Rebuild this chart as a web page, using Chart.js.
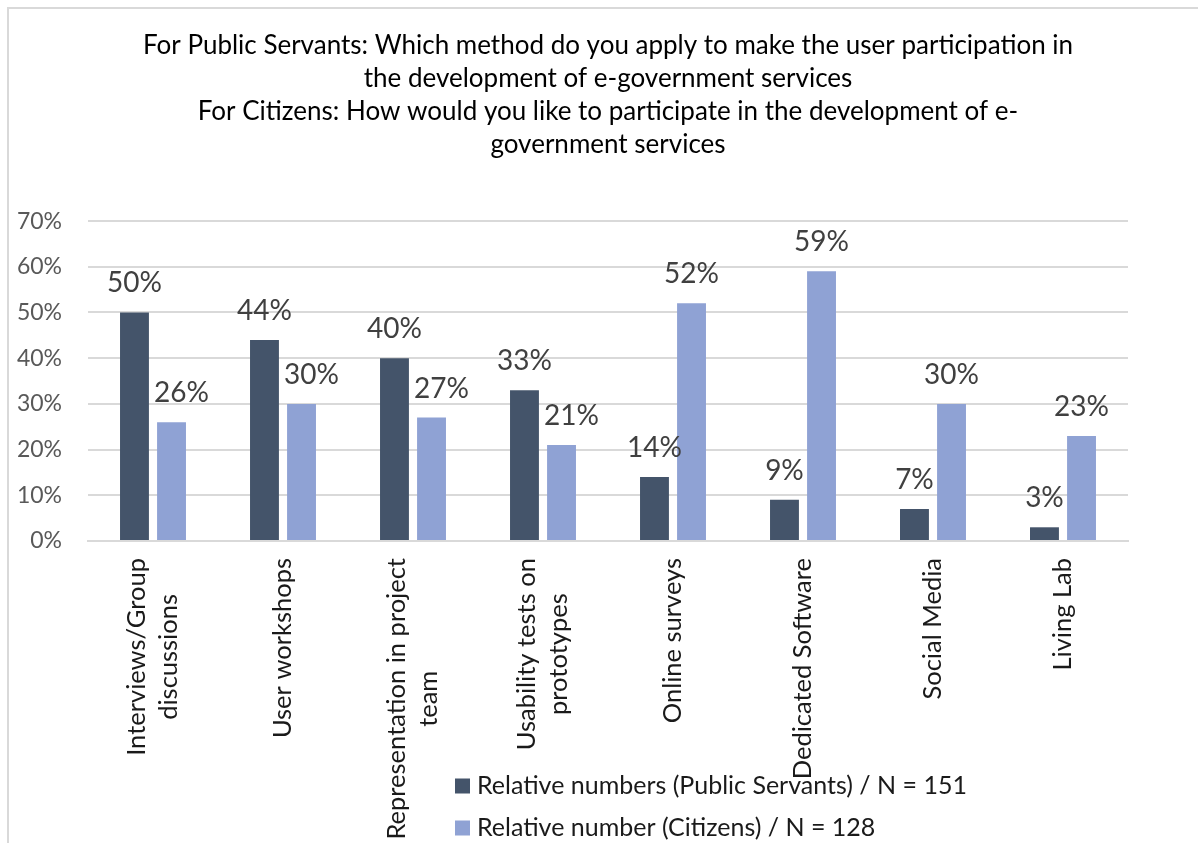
<!DOCTYPE html>
<html>
<head>
<meta charset="utf-8">
<script src="https://cdn.jsdelivr.net/npm/chart.js@4.4.1/dist/chart.umd.min.js"></script>
<style>
  html, body { margin: 0; padding: 0; background: #fff; overflow: hidden; }
  #frame {
    position: absolute; left: 7px; top: 7px; width: 1400px; height: 1000px;
    border: 2px solid #d9d9d9; box-sizing: border-box;
  }
  #myChart { position: absolute; left: 0; top: 0; }
</style>
</head>
<body>
<div id="frame"></div>
<canvas id="myChart" width="1198" height="843"></canvas>
<script>
const categories = [
  ["Interviews/Group", "discussions"],
  ["User workshops"],
  ["Representation in project", "team"],
  ["Usability tests on", "prototypes"],
  ["Online surveys"],
  ["Dedicated Software"],
  ["Social Media"],
  ["Living Lab"]
];
const publicServants = [50, 44, 40, 33, 14, 9, 7, 3];
const citizens = [26, 30, 27, 21, 52, 59, 30, 23];
const seriesNames = [
  "Relative numbers (Public Servants) / N = 151",
  "Relative number (Citizens) / N = 128"
];
const seriesColors = ["#44546A", "#8FA2D4"];
const yTicks = [0, 10, 20, 30, 40, 50, 60, 70];
const titleLines = [
  "For Public Servants: Which method do you apply to make the user participation in",
  "the development of e-government services",
  "For Citizens: How would you like to participate in the development of e-",
  "government services"
];

const FONT = "Lato";

// values above the bars; a citizens label is pushed right when the
// taller public-servants bar next to it would cover it
const valueLabels = {
  id: "valueLabels",
  afterDatasetsDraw(chart) {
    const ctx = chart.ctx;
    ctx.save();
    ctx.font = "28px " + FONT;
    ctx.fillStyle = "#404040";
    ctx.textAlign = "center";
    ctx.textBaseline = "alphabetic";
    const left = chart.getDatasetMeta(0).data;
    chart.data.datasets.forEach((ds, di) => {
      chart.getDatasetMeta(di).data.forEach((bar, i) => {
        const txt = ds.data[i] + "%";
        const w = ctx.measureText(txt).width;
        let x = bar.x;
        const y = bar.y - 20;
        if (di === 1) {
          const nb = left[i];
          const nbRight = nb.x + nb.width / 2;
          if (nb.y < y && x - w / 2 < nbRight + 5) x = nbRight + 5 + w / 2;
        }
        ctx.fillText(txt, x, y);
      });
    });
    ctx.restore();
  }
};

// rotated category labels, lines centred on each other
const xLabels = {
  id: "xLabels",
  afterDraw(chart) {
    const ctx = chart.ctx;
    const xs = chart.scales.x;
    ctx.save();
    ctx.font = "25.5px " + FONT;
    ctx.fillStyle = "#1a1a1a";
    ctx.textAlign = "center";
    ctx.textBaseline = "middle";
    categories.forEach((lines, i) => {
      const px = xs.getPixelForTick(i);
      const maxW = Math.max(...lines.map((l) => ctx.measureText(l).width));
      const cy = xs.top + 17 + maxW / 2;
      lines.forEach((line, j) => {
        const off = (j - (lines.length - 1) / 2) * 32;
        ctx.save();
        ctx.translate(px + off, cy);
        ctx.rotate(-Math.PI / 2);
        ctx.fillText(line, 0, 0);
        ctx.restore();
      });
    });
    ctx.restore();
  }
};

// legend drawn over the label area, like the original
const overlayLegend = {
  id: "overlayLegend",
  afterDraw(chart) {
    const ctx = chart.ctx;
    ctx.save();
    ctx.font = "25px " + FONT;
    ctx.textBaseline = "middle";
    ctx.textAlign = "left";
    chart.data.datasets.forEach((ds, i) => {
      const y = 786 + i * 42;
      ctx.fillStyle = ds.backgroundColor;
      ctx.fillRect(455, y - 7.5, 15, 15);
      ctx.fillStyle = "#1a1a1a";
      ctx.fillText(ds.label, 477, y);
    });
    ctx.restore();
  }
};

const ctx = document.getElementById("myChart");
new Chart(ctx, {
  type: "bar",
  data: {
    labels: categories,
    datasets: [
      {
        label: seriesNames[0],
        data: publicServants,
        backgroundColor: seriesColors[0],
        categoryPercentage: 0.57,
        barPercentage: 0.78
      },
      {
        label: seriesNames[1],
        data: citizens,
        backgroundColor: seriesColors[1],
        categoryPercentage: 0.57,
        barPercentage: 0.78
      }
    ]
  },
  options: {
    responsive: false,
    animation: false,
    devicePixelRatio: 1,
    layout: { padding: { left: 10, right: 70, top: 10, bottom: 0 } },
    plugins: {
      legend: { display: false },
      tooltip: { enabled: false },
      title: {
        display: true,
        fullSize: false,
        text: titleLines,
        color: "#000",
        font: { family: FONT, size: 26, weight: "normal", lineHeight: 1.27 },
        padding: { top: 19, bottom: 60 }
      }
    },
    scales: {
      x: {
        grid: { display: false },
        border: { display: true, color: "#d9d9d9", width: 2 },
        ticks: { display: false },
        afterFit(scale) { scale.height = 302; }
      },
      y: {
        min: 0,
        max: 70,
        afterBuildTicks(scale) { scale.ticks = yTicks.map((v) => ({ value: v })); },
        grid: { color: "#d9d9d9", lineWidth: 2, drawTicks: false },
        border: { display: false },
        ticks: {
          padding: 26,
          color: "#595959",
          font: { family: FONT, size: 23 },
          callback: (v) => v + "%"
        },
        afterFit(scale) { scale.width = 78; }
      }
    }
  },
  plugins: [valueLabels, xLabels, overlayLegend]
});
</script>
</body>
</html>
